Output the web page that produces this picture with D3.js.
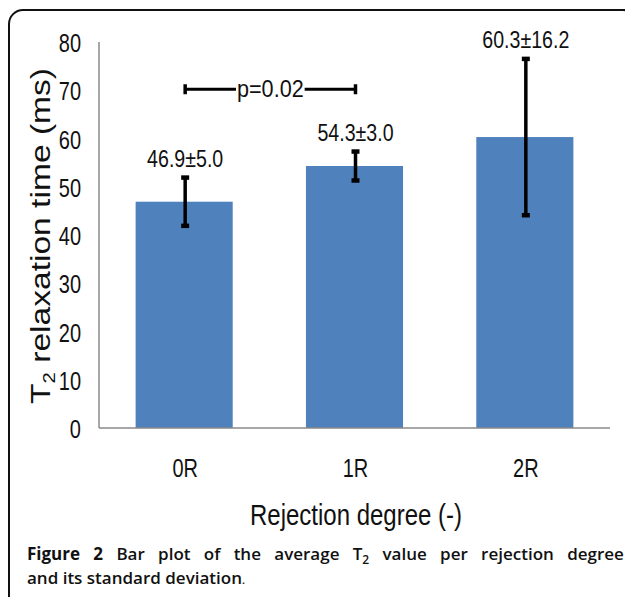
<!DOCTYPE html>
<html>
<head>
<meta charset="utf-8">
<script src="https://cdn.jsdelivr.net/npm/d3@7"></script>
<style>
  html, body { margin: 0; padding: 0; background: #fff; }
  svg { display: block; }
</style>
</head>
<body>
<script>
// data
const categories = ["0R", "1R", "2R"];
const means = [46.9, 54.3, 60.3];
const sds = [5.0, 3.0, 16.2];
const yTicks = [0, 10, 20, 30, 40, 50, 60, 70, 80];
const pPair = ["0R", "1R"];
const pLevel = 70;
const pText = "p=0.02";

const W = 625, H = 597;
const sans = "'Liberation Sans', Arial, sans-serif";
const squeeze = 0.8; // the figure is stretched tall, so its text looks narrow

const svg = d3.select("body").append("svg")
    .attr("width", W)
    .attr("height", H);

// narrow text = normal text squeezed horizontally around its anchor
function narrowText(parent, tx, ty, size, anchor, str, sx) {
    return parent.append("text")
        .attr("transform", `translate(${tx},${ty}) scale(${sx || squeeze},1)`)
        .attr("text-anchor", anchor)
        .attr("font-family", sans)
        .attr("font-size", size)
        .attr("fill", "#111")
        .text(str);
}

// frame (only top and left edges show)
svg.append("rect")
    .attr("x", 9).attr("y", 10)
    .attr("width", 628).attr("height", 640)
    .attr("rx", 14)
    .attr("fill", "none")
    .attr("stroke", "#111")
    .attr("stroke-width", 2);

const plot = {left: 99, right: 610, top: 42, bottom: 428};

const x = d3.scaleBand()
    .domain(categories)
    .range([plot.left, plot.right])
    .paddingInner(0.43)
    .paddingOuter(0.215);

const y = d3.scaleLinear()
    .domain([0, 80])
    .range([plot.bottom, plot.top]);

// bars
svg.append("g")
    .selectAll("rect")
    .data(categories)
    .enter()
    .append("rect")
    .attr("x", d => x(d))
    .attr("width", x.bandwidth())
    .attr("y", (d, i) => y(means[i]))
    .attr("height", (d, i) => y(0) - y(means[i]))
    .attr("fill", "#4f81bd");

// axes lines
svg.append("line")
    .attr("x1", plot.left).attr("x2", plot.left)
    .attr("y1", y(80)).attr("y2", y(0))
    .attr("stroke", "#8a8a8a").attr("stroke-width", 1.5);
svg.append("line")
    .attr("x1", plot.left).attr("x2", plot.right)
    .attr("y1", y(0)).attr("y2", y(0))
    .attr("stroke", "#8a8a8a").attr("stroke-width", 1.5);

// y tick labels
const gy = svg.append("g");
yTicks.forEach(t => narrowText(gy, 81, y(t) + 10, 25, "end", t));

// x tick labels
const gx = svg.append("g");
categories.forEach(c => narrowText(gx, x(c) + x.bandwidth() / 2 + 1, 477, 25, "middle", c));

// error bars
const eb = svg.append("g");
categories.forEach((c, i) => {
    const cx = x(c) + x.bandwidth() / 2 + 1;
    const top = y(means[i] + sds[i]);
    const bot = y(means[i] - sds[i]);
    eb.append("line")
        .attr("x1", cx).attr("x2", cx)
        .attr("y1", top).attr("y2", bot)
        .attr("stroke", "#000").attr("stroke-width", 3.5);
    [top, bot].forEach(v => {
        eb.append("line")
            .attr("x1", cx - 4).attr("x2", cx + 4)
            .attr("y1", v).attr("y2", v)
            .attr("stroke", "#000").attr("stroke-width", 4.5);
    });
    narrowText(eb, cx, top - 11, 24.5, "middle", `${means[i].toFixed(1)}±${sds[i].toFixed(1)}`);
});

// significance bracket
const px1 = x(pPair[0]) + x.bandwidth() / 2 + 1;
const px2 = x(pPair[1]) + x.bandwidth() / 2 + 1;
const py = y(pLevel) - 1;
const pmid = (px1 + px2) / 2;
const pg = svg.append("g");
const pLabel = narrowText(pg, pmid, py + 8, 24, "middle", pText, 0.9);
const pw = pLabel.node().getComputedTextLength() * 0.9;
pg.append("line")
    .attr("x1", px1).attr("x2", pmid - pw / 2 - 1)
    .attr("y1", py).attr("y2", py)
    .attr("stroke", "#000").attr("stroke-width", 3);
pg.append("line")
    .attr("x1", pmid + pw / 2 + 1).attr("x2", px2)
    .attr("y1", py).attr("y2", py)
    .attr("stroke", "#000").attr("stroke-width", 3);
[px1, px2].forEach(v => {
    pg.append("line")
        .attr("x1", v).attr("x2", v)
        .attr("y1", py - 5).attr("y2", py + 5)
        .attr("stroke", "#000").attr("stroke-width", 3.5);
});

// axis titles
narrowText(svg, 356, 525, 30, "middle", "Rejection degree (-)");

// rotated title: stretched along its length like the rest of the figure
const yt = svg.append("text")
    .attr("transform", "translate(50,236) rotate(-90) scale(1.2,1)")
    .attr("text-anchor", "middle")
    .attr("font-family", sans)
    .attr("font-size", 28)
    .attr("fill", "#111");
yt.append("tspan").text("T");
yt.append("tspan").attr("font-size", 17).attr("dy", 5).text("2");
yt.append("tspan").attr("dy", -5).text(" relaxation time (ms)");

// caption
const capFont = "'Open Sans', 'Noto Sans', sans-serif";
const cap1 = svg.append("text")
    .attr("x", 27).attr("y", 560)
    .attr("font-family", capFont)
    .attr("font-size", 17)
    .attr("font-weight", 600)
    .attr("fill", "#111");
cap1.append("tspan").attr("font-weight", 700).text("Figure 2");
cap1.append("tspan").text(" Bar plot of the average T");
cap1.append("tspan").attr("font-size", 12).attr("dy", 4).text("2");
cap1.append("tspan").attr("dy", -4).text(" value per rejection degree");
// justify the first line
const natural = cap1.node().getComputedTextLength();
cap1.attr("word-spacing", Math.max(0, (615 - 27 - natural) / 10));

const cap2 = svg.append("text")
    .attr("x", 27).attr("y", 584)
    .attr("font-family", capFont)
    .attr("font-size", 17)
    .attr("font-weight", 600)
    .attr("fill", "#111");
cap2.append("tspan").text("and its standard deviation");
cap2.append("tspan").attr("font-size", 11).text(".");
</script>
</body>
</html>
